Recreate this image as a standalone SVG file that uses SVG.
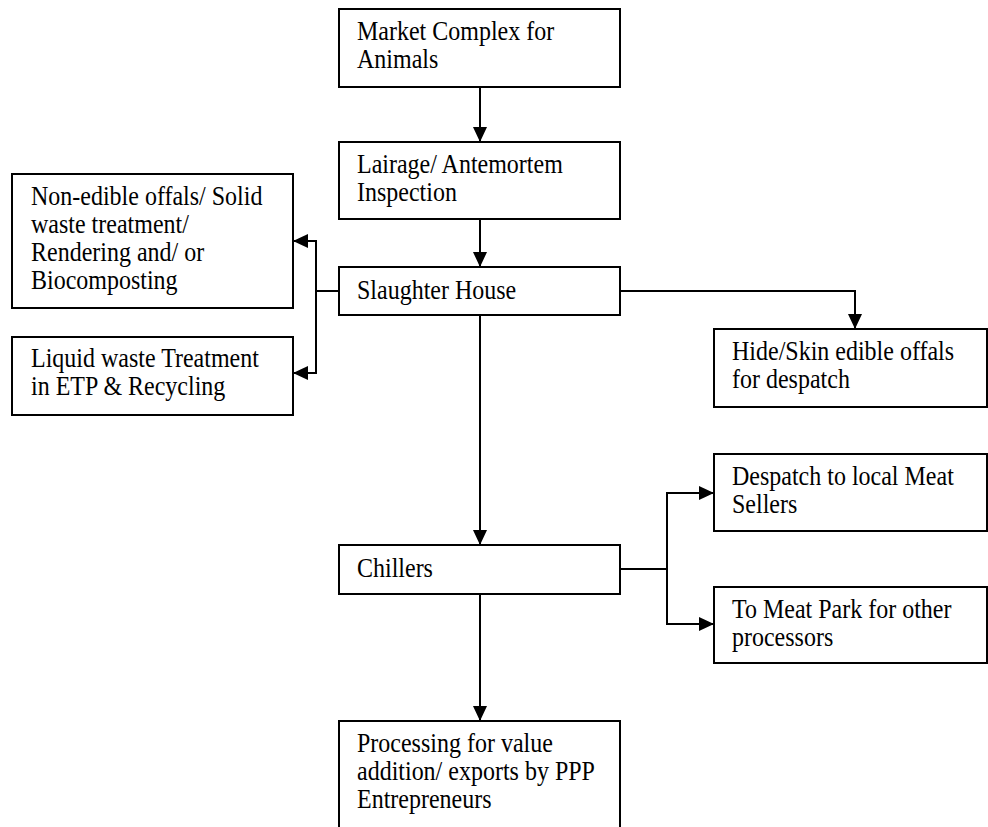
<svg xmlns="http://www.w3.org/2000/svg" width="988" height="827" viewBox="0 0 988 827">
<style>
.box{fill:#fff;stroke:#000;stroke-width:2}
.lbl{font-family:"Liberation Serif","Times New Roman",serif;font-size:24px;fill:#000}
.ln{fill:none;stroke:#000;stroke-width:2}
</style>
<defs>
<marker id="ah" markerUnits="userSpaceOnUse" markerWidth="16" markerHeight="14" refX="15" refY="7" orient="auto">
<path d="M0,0 L15,7 L0,14 z" fill="#000"/>
</marker>
</defs>
<rect width="988" height="827" fill="#fff"/>
<g id="connectors">
<path class="ln" d="M480,87 V142" marker-end="url(#ah)"/>
<path class="ln" d="M480,219 V267" marker-end="url(#ah)"/>
<path class="ln" d="M480,315 V545" marker-end="url(#ah)"/>
<path class="ln" d="M480,594 V721" marker-end="url(#ah)"/>
<path class="ln" d="M339,291 H316"/>
<path class="ln" d="M316,291 V241 H293" marker-end="url(#ah)"/>
<path class="ln" d="M316,291 V373 H293" marker-end="url(#ah)"/>
<path class="ln" d="M620,291 H855 V329" marker-end="url(#ah)"/>
<path class="ln" d="M620,569 H667"/>
<path class="ln" d="M667,569 V493 H714" marker-end="url(#ah)"/>
<path class="ln" d="M667,569 V624 H714" marker-end="url(#ah)"/>
</g>
<g id="market">
<rect class="box" x="339" y="9" width="281" height="78"/>
<text class="lbl" transform="translate(357,40) scale(1,1.12)"><tspan x="0" y="0">Market Complex for</tspan><tspan x="0" y="25">Animals</tspan></text>
</g>
<g id="lairage">
<rect class="box" x="339" y="142" width="281" height="77"/>
<text class="lbl" transform="translate(357,173) scale(1,1.12)"><tspan x="0" y="0">Lairage/ Antemortem</tspan><tspan x="0" y="25">Inspection</tspan></text>
</g>
<g id="slaughter">
<rect class="box" x="339" y="267" width="281" height="48"/>
<text class="lbl" transform="translate(357,299) scale(1,1.12)">Slaughter House</text>
</g>
<g id="nonedible">
<rect class="box" x="12" y="174" width="281" height="134"/>
<text class="lbl" transform="translate(31,205) scale(1,1.12)"><tspan x="0" y="0">Non-edible offals/ Solid</tspan><tspan x="0" y="25">waste treatment/</tspan><tspan x="0" y="50">Rendering and/ or</tspan><tspan x="0" y="75">Biocomposting</tspan></text>
</g>
<g id="liquid">
<rect class="box" x="12" y="337" width="281" height="78"/>
<text class="lbl" transform="translate(31,367) scale(1,1.12)"><tspan x="0" y="0">Liquid waste Treatment</tspan><tspan x="0" y="25">in ETP &amp; Recycling</tspan></text>
</g>
<g id="hide">
<rect class="box" x="714" y="329" width="273" height="78"/>
<text class="lbl" transform="translate(732,360) scale(1,1.12)"><tspan x="0" y="0">Hide/Skin edible offals</tspan><tspan x="0" y="25">for despatch</tspan></text>
</g>
<g id="chillers">
<rect class="box" x="339" y="545" width="281" height="49"/>
<text class="lbl" transform="translate(357,577) scale(1,1.12)">Chillers</text>
</g>
<g id="despatch">
<rect class="box" x="714" y="454" width="273" height="77"/>
<text class="lbl" transform="translate(732,485) scale(1,1.12)"><tspan x="0" y="0">Despatch to local Meat</tspan><tspan x="0" y="25">Sellers</tspan></text>
</g>
<g id="meatpark">
<rect class="box" x="714" y="587" width="273" height="76"/>
<text class="lbl" transform="translate(732,618) scale(1,1.12)"><tspan x="0" y="0">To Meat Park for other</tspan><tspan x="0" y="25">processors</tspan></text>
</g>
<g id="processing">
<rect class="box" x="339" y="721" width="281" height="130"/>
<text class="lbl" transform="translate(357,752) scale(1,1.12)"><tspan x="0" y="0">Processing for value</tspan><tspan x="0" y="25">addition/ exports by PPP</tspan><tspan x="0" y="50">Entrepreneurs</tspan></text>
</g>
</svg>
